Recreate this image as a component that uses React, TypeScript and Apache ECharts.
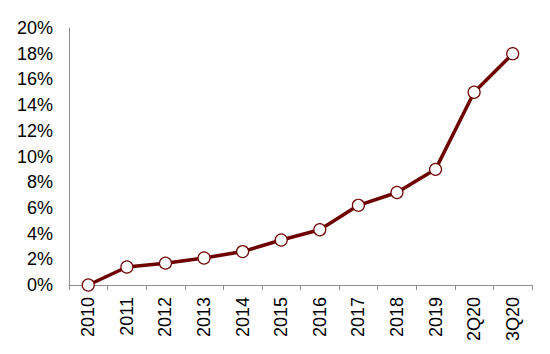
import React, { useEffect, useRef } from "react";
import * as echarts from "echarts";

const categories = ["2010", "2011", "2012", "2013", "2014", "2015", "2016", "2017", "2018", "2019", "2Q20", "3Q20"];
const values = [0, 1.4, 1.7, 2.1, 2.6, 3.5, 4.3, 6.2, 7.2, 9.0, 15.0, 18.0];
const yTicks = { min: 0, max: 20, interval: 2 };

export default function App() {
  const ref = useRef<HTMLDivElement>(null);
  useEffect(() => {
    if (!ref.current) return;
    const chart = echarts.init(ref.current, undefined, { renderer: "svg" });
    chart.setOption({
      animation: false,
      grid: { left: 69, top: 28, right: 18, bottom: 69 },
      xAxis: {
        type: "category",
        data: categories,
        boundaryGap: true,
        axisLine: { lineStyle: { color: "#8c8c8c", width: 1 } },
        axisTick: { show: true, length: 5, alignWithLabel: false, lineStyle: { color: "#8c8c8c" } },
        axisLabel: {
          rotate: 90,
          margin: 12,
          color: "#000",
          fontFamily: "Liberation Sans, Arial, sans-serif",
          fontSize: 18,
        },
      },
      yAxis: {
        type: "value",
        min: yTicks.min,
        max: yTicks.max,
        interval: yTicks.interval,
        splitLine: { show: false },
        axisLine: { show: true, lineStyle: { color: "#8c8c8c", width: 1 } },
        axisTick: { show: false },
        axisLabel: {
          formatter: "{value}%",
          margin: 16,
          color: "#000",
          fontFamily: "Liberation Sans, Arial, sans-serif",
          fontSize: 18,
        },
      },
      series: [
        {
          type: "line",
          data: values,
          symbol: "circle",
          symbolSize: 12,
          showAllSymbol: true,
          lineStyle: { color: "#6e0000", width: 3.5 },
          itemStyle: { color: "#ffffff", borderColor: "#6e0000", borderWidth: 1.2 },
          z: 3,
        },
      ],
    });
    return () => chart.dispose();
  }, []);
  return <div ref={ref} style={{ width: 550, height: 354, position: "absolute", left: 0, top: 0 }} />;
}
